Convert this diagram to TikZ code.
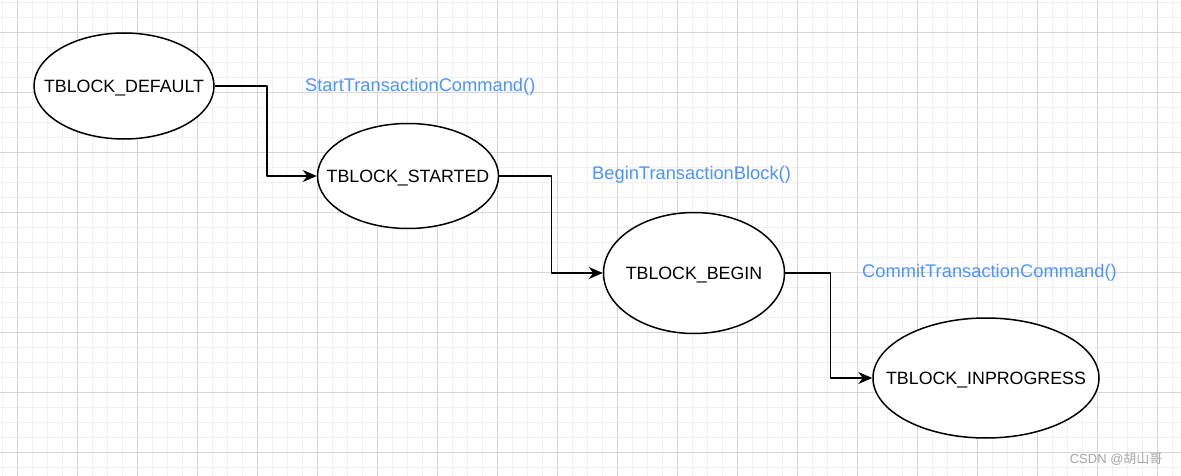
\documentclass[tikz,border=0pt]{standalone}
\usepackage{fontspec}
\setmainfont{Liberation Sans}
\newfontfamily\cjkfont{Noto Sans CJK SC}
\usetikzlibrary{arrows.meta,shapes.geometric}
\definecolor{callblue}{RGB}{77,148,255}
\definecolor{minorgrid}{RGB}{241,241,241}
\definecolor{majorgrid}{RGB}{214,214,214}
\newcommand\tb[1]{\makebox[0pt]{#1}}
\begin{document}
\begin{tikzpicture}[x=1pt, y=-1pt, line join=round, >={Stealth[length=14pt,width=12pt,inset=4.5pt]},
	state/.style={draw, ellipse, line width=1.5pt, fill=white, inner sep=0pt, text height=12.7pt, text depth=0pt, font=\fontsize{17.8}{21}\selectfont},
	call/.style={text=callblue, anchor=west, inner sep=0pt, font=\fontsize{18.3}{22}\selectfont},
	flow/.style={->, line width=1.5pt}]
	\def\W{1181} \def\H{476} % Kích thước
	\useasboundingbox (0,0) rectangle (\W,\H);
	\fill[white] (0,0) rectangle (\W,\H);
	\foreach \x in {2,17,...,1180} \draw[minorgrid] (\x,0)--(\x,\H);
	\foreach \y in {2,17,...,475} \draw[minorgrid] (0,\y)--(\W,\y);
	\foreach \x in {17,77,...,1180} \draw[majorgrid] (\x,0)--(\x,\H);
	\foreach \y in {32,92,...,475} \draw[majorgrid] (0,\y)--(\W,\y);
	\node[state, minimum width=180pt, minimum height=106pt] (dflt) at (124,86) {\tb{TBLOCK\_DEFAULT}};
	\node[state, minimum width=181pt, minimum height=105pt] (strt) at (408,176) {\tb{TBLOCK\_STARTED}};
	\node[state, minimum width=181pt, minimum height=121pt] (begn) at (694,273) {\tb{TBLOCK\_BEGIN}};
	\node[state, minimum width=226pt, minimum height=120pt] (inpr) at (986,378) {\tb{TBLOCK\_INPROGRESS}};
	\draw[flow] (dflt.east) -- ++(52,0) |- (strt.west);
	\draw[flow] (strt.east) -- ++(52,0) |- (begn.west);
	\draw[flow] (begn.east) -- ++(45,0) |- (inpr.west);
	\node[call] (startcmd) at (305,87) {StartTransactionCommand()};
	\node[call] (beginblk) at (592,175) {BeginTransactionBlock()};
	\node[call] (commitcmd) at (862,273) {CommitTransactionCommand()};
	\node[anchor=east, text=gray!70, font=\fontsize{13}{15}\selectfont] (mark) at (1166,459) {CSDN @\cjkfont 胡山哥};
\end{tikzpicture}
\end{document}
